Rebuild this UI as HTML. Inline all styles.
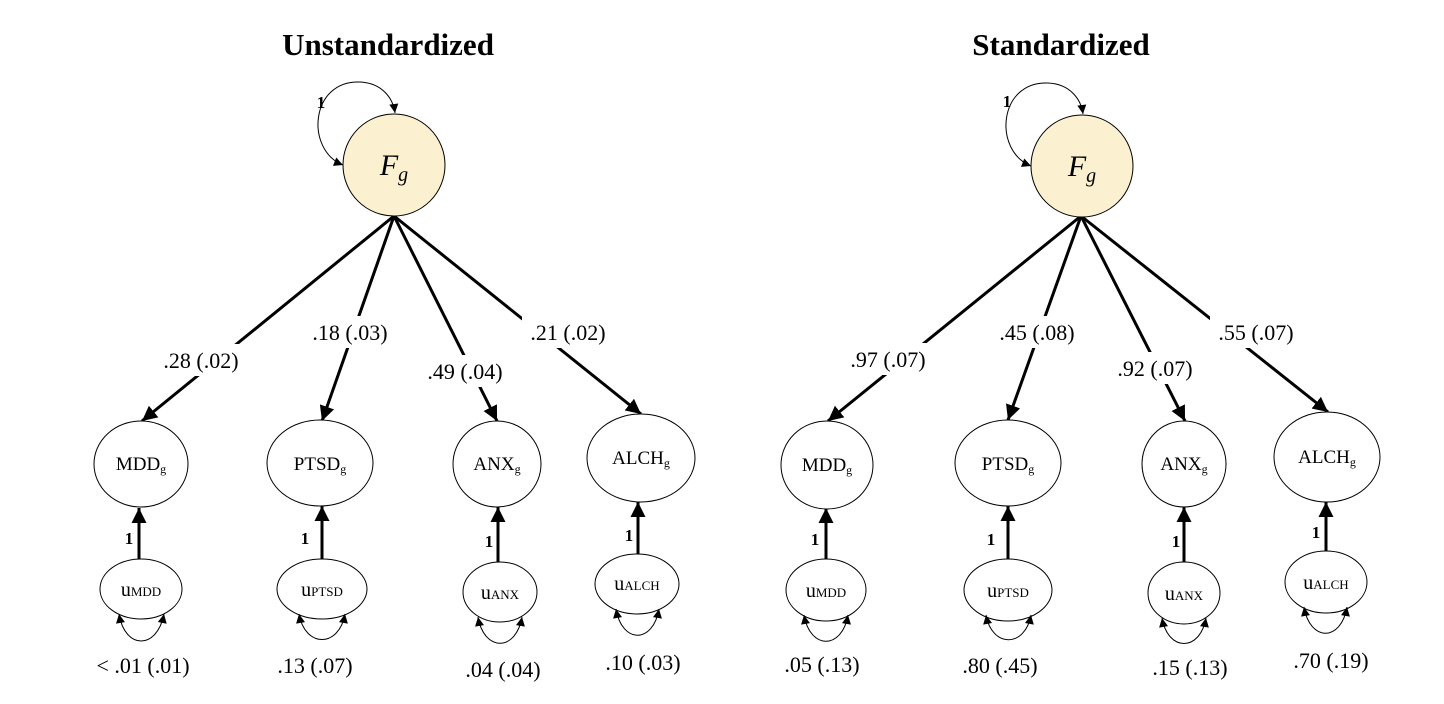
<!DOCTYPE html>
<html><head><meta charset="utf-8"><style>
html,body{margin:0;padding:0;background:#fff;}
svg{display:block;font-family:"Liberation Serif",serif;}
</style></head><body>
<svg width="1444" height="704" viewBox="0 0 1444 704" xmlns="http://www.w3.org/2000/svg">
<defs>
<marker id="a" viewBox="0 0 10 10" refX="10" refY="5" markerWidth="5" markerHeight="5" orient="auto-start-reverse"><path d="M0,0 L10,5 L0,10 z" fill="#000"/></marker>
<marker id="s" viewBox="0 0 10 10" refX="10" refY="5" markerWidth="11" markerHeight="9" orient="auto-start-reverse" markerUnits="userSpaceOnUse"><path d="M0,0 L10,5 L0,10 z" fill="#000"/></marker>
</defs>
<text x="388" y="55" font-size="31" font-weight="bold" text-anchor="middle">Unstandardized</text>
<text x="1061" y="55" font-size="31" font-weight="bold" text-anchor="middle">Standardized</text>

<g stroke="#000" fill="none">
<path d="M343,165 C305,150 310,80 360,82 C382,83 393,98 395,113" stroke-width="1" marker-start="url(#s)" marker-end="url(#s)"/>
<line x1="394" y1="216" x2="142" y2="421" stroke-width="3" marker-end="url(#a)"/>
<line x1="394" y1="216" x2="322" y2="421" stroke-width="3" marker-end="url(#a)"/>
<line x1="394" y1="216" x2="497" y2="421" stroke-width="3" marker-end="url(#a)"/>
<line x1="394" y1="216" x2="641" y2="414" stroke-width="3" marker-end="url(#a)"/>
<line x1="139" y1="559" x2="139" y2="508" stroke-width="3" marker-end="url(#a)"/>
<line x1="322" y1="559" x2="322" y2="506" stroke-width="3" marker-end="url(#a)"/>
<line x1="498" y1="562" x2="498" y2="507" stroke-width="3" marker-end="url(#a)"/>
<line x1="638" y1="554" x2="638" y2="502" stroke-width="3" marker-end="url(#a)"/>
<path d="M1031,166 C993,151 998,81 1048,83 C1070,84 1081,99 1083,114" stroke-width="1" marker-start="url(#s)" marker-end="url(#s)"/>
<line x1="1081" y1="216" x2="828" y2="421" stroke-width="3" marker-end="url(#a)"/>
<line x1="1081" y1="216" x2="1008" y2="420" stroke-width="3" marker-end="url(#a)"/>
<line x1="1081" y1="216" x2="1185" y2="421" stroke-width="3" marker-end="url(#a)"/>
<line x1="1081" y1="216" x2="1328" y2="412" stroke-width="3" marker-end="url(#a)"/>
<line x1="826" y1="560" x2="826" y2="508" stroke-width="3" marker-end="url(#a)"/>
<line x1="1008" y1="560" x2="1008" y2="506" stroke-width="3" marker-end="url(#a)"/>
<line x1="1184" y1="562" x2="1184" y2="507" stroke-width="3" marker-end="url(#a)"/>
<line x1="1326" y1="553" x2="1326" y2="502" stroke-width="3" marker-end="url(#a)"/>
</g>

<g fill="#fff">
<rect x="156" y="344" width="92" height="32"/><rect x="304" y="316" width="92" height="32"/>
<rect x="419" y="355" width="92" height="32"/><rect x="522" y="316" width="92" height="32"/>
<rect x="842" y="343" width="92" height="32"/><rect x="991" y="316" width="92" height="32"/>
<rect x="1109" y="352" width="92" height="32"/><rect x="1210" y="316" width="92" height="32"/>
</g>
<g font-size="22" text-anchor="middle">
<text x="201" y="368">.28 (.02)</text><text x="350" y="340">.18 (.03)</text>
<text x="465" y="379">.49 (.04)</text><text x="568" y="340">.21 (.02)</text>
<text x="888" y="367">.97 (.07)</text><text x="1037" y="340">.45 (.08)</text>
<text x="1155" y="376">.92 (.07)</text><text x="1256" y="340">.55 (.07)</text>
<text x="143" y="673">&lt; .01 (.01)</text><text x="315" y="673">.13 (.07)</text>
<text x="503" y="677">.04 (.04)</text><text x="643" y="670">.10 (.03)</text>
<text x="822" y="672">.05 (.13)</text><text x="1000" y="673">.80 (.45)</text>
<text x="1190" y="675">.15 (.13)</text><text x="1331" y="668">.70 (.19)</text>
</g>

<g stroke="#000" stroke-width="1" fill="#fff">
<circle cx="394" cy="165" r="51" fill="#fbf0d0"/>
<circle cx="1082" cy="166" r="51" fill="#fbf0d0"/>
<ellipse cx="141" cy="464" rx="47" ry="43"/>
<ellipse cx="320" cy="463" rx="53" ry="43"/>
<ellipse cx="497" cy="464" rx="44" ry="43"/>
<ellipse cx="641" cy="458" rx="54" ry="44"/>
<ellipse cx="141" cy="589" rx="41" ry="30"/>
<ellipse cx="322" cy="589" rx="45" ry="30"/>
<ellipse cx="500" cy="592" rx="37" ry="30"/>
<ellipse cx="637" cy="584" rx="42" ry="30"/>
<ellipse cx="827" cy="465" rx="46" ry="44"/>
<ellipse cx="1008" cy="463" rx="53" ry="43"/>
<ellipse cx="1184" cy="464" rx="42" ry="43"/>
<ellipse cx="1327" cy="457" rx="53" ry="45"/>
<ellipse cx="826" cy="590" rx="40" ry="31"/>
<ellipse cx="1008" cy="590" rx="44" ry="31"/>
<ellipse cx="1184" cy="593" rx="36" ry="31"/>
<ellipse cx="1326" cy="582" rx="41" ry="31"/>
</g>

<g stroke="#000" stroke-width="1" fill="none">
<path d="M119,614 C125,650 157,650 164,614" marker-start="url(#s)" marker-end="url(#s)"/>
<path d="M299,614 C305,648 339,648 345,614" marker-start="url(#s)" marker-end="url(#s)"/>
<path d="M478,617 C484,652 516,652 522,617" marker-start="url(#s)" marker-end="url(#s)"/>
<path d="M616,609 C622,644 653,644 659,609" marker-start="url(#s)" marker-end="url(#s)"/>
<path d="M804,615 C810,650 842,650 848,615" marker-start="url(#s)" marker-end="url(#s)"/>
<path d="M986,615 C992,648 1025,648 1031,615" marker-start="url(#s)" marker-end="url(#s)"/>
<path d="M1162,618 C1168,652 1200,652 1206,618" marker-start="url(#s)" marker-end="url(#s)"/>
<path d="M1304,607 C1310,642 1341,642 1347,607" marker-start="url(#s)" marker-end="url(#s)"/>
</g>

<g font-size="17" font-weight="bold" text-anchor="middle">
<text x="321" y="108">1</text><text x="1007" y="107">1</text>
<text x="129" y="544">1</text><text x="305" y="544">1</text><text x="489" y="547">1</text><text x="629" y="541">1</text>
<text x="815" y="545">1</text><text x="991" y="545">1</text><text x="1176" y="547">1</text><text x="1316" y="538">1</text>
</g>

<g text-anchor="middle">
<text x="394" y="175" font-size="30" font-style="italic">F<tspan font-size="20" dy="6">g</tspan></text>
<text x="1082" y="176" font-size="30" font-style="italic">F<tspan font-size="20" dy="6">g</tspan></text>
<g font-size="19">
<text x="141" y="470">MDD<tspan font-size="12" dy="3">g</tspan></text>
<text x="320" y="470">PTSD<tspan font-size="12" dy="3">g</tspan></text>
<text x="497" y="470">ANX<tspan font-size="12" dy="3">g</tspan></text>
<text x="641" y="464">ALCH<tspan font-size="12" dy="3">g</tspan></text>
<text x="827" y="471">MDD<tspan font-size="12" dy="3">g</tspan></text>
<text x="1008" y="470">PTSD<tspan font-size="12" dy="3">g</tspan></text>
<text x="1184" y="470">ANX<tspan font-size="12" dy="3">g</tspan></text>
<text x="1327" y="463">ALCH<tspan font-size="12" dy="3">g</tspan></text>
</g>
<g font-size="20">
<text x="141" y="596">u<tspan font-size="13">MDD</tspan></text>
<text x="322" y="596">u<tspan font-size="13">PTSD</tspan></text>
<text x="500" y="599">u<tspan font-size="13">ANX</tspan></text>
<text x="637" y="590">u<tspan font-size="13">ALCH</tspan></text>
<text x="826" y="597">u<tspan font-size="13">MDD</tspan></text>
<text x="1008" y="597">u<tspan font-size="13">PTSD</tspan></text>
<text x="1184" y="600">u<tspan font-size="13">ANX</tspan></text>
<text x="1326" y="589">u<tspan font-size="13">ALCH</tspan></text>
</g>
</g>
</svg>
</body></html>
